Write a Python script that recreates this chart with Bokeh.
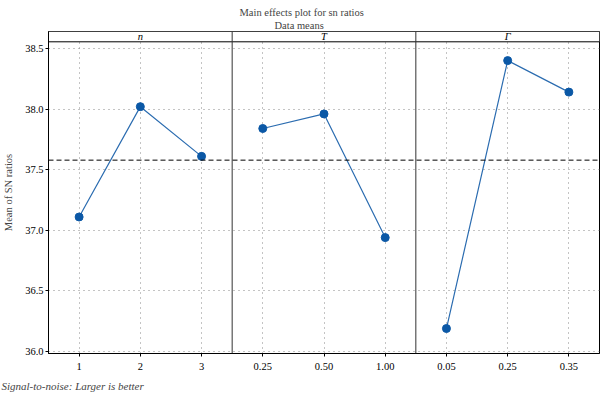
from bokeh.plotting import figure
from bokeh.models import (Span, FixedTicker, Title, Range1d, ColumnDataSource)
from bokeh.core.properties import value
from bokeh.embed import file_html
from bokeh.resources import INLINE

# ---- data ----
factors = ["n", "T", "Γ"]
levels_n = ["1", "2", "3"]
levels_T = ["0.25", "0.50", "1.00"]
levels_G = ["0.05", "0.25", "0.35"]
sn_n = [37.11, 38.02, 37.61]
sn_T = [37.84, 37.96, 36.94]
sn_G = [36.19, 38.40, 38.14]
y_ticks = [36.0, 36.5, 37.0, 37.5, 38.0, 38.5]

FONT = "Liberation Serif"
LINE_C = "#2b6cb0"
MARK_C = "#0b58a6"

all_levels = levels_n + levels_T + levels_G
all_vals = sn_n + sn_T + sn_G
grand_mean = sum(all_vals) / len(all_vals)

y_lo, y_hi = 35.984, 38.64
header_bottom = 38.555

p = figure(width=600, height=396, output_backend="svg", toolbar_location=None,
           x_range=Range1d(0, 9), y_range=Range1d(y_lo, y_hi),
           min_border_left=48, min_border_right=1, min_border_top=31,
           min_border_bottom=42, tools="")
p.background_fill_color = "white"
p.border_fill_color = "white"
p.outline_line_color = "black"
p.outline_line_width = 1

# titles (added bottom-up)
t2 = Title(text="Data means", align="left", text_font=FONT,
           text_font_size="10.5px", text_font_style="normal", standoff=1, offset=226,
           text_line_height=1.0)
t1 = Title(text="Main effects plot for sn ratios", align="left", text_font=FONT,
           text_font_size="10.5px", text_font_style="normal", standoff=0, offset=191,
           text_line_height=1.0)
p.add_layout(t2, "above")
p.add_layout(t1, "above")
foot = Title(text="Signal-to-noise: Larger is better", align="left", text_font=FONT,
             text_font_size="11px", text_font_style="italic", standoff=10, offset=-47)
p.add_layout(foot, "below")

# axes
xt = [0.5, 1.5, 2.5, 3.5, 4.5, 5.5, 6.5, 7.5, 8.5]
p.xaxis.ticker = FixedTicker(ticks=xt)
p.xaxis.major_label_overrides = {x: lab for x, lab in zip(xt, all_levels)}
p.yaxis.ticker = FixedTicker(ticks=y_ticks)
p.yaxis.major_label_overrides = {v: f"{v:.1f}" for v in y_ticks}
p.yaxis.axis_label = "Mean of SN ratios"
for ax in (p.xaxis[0], p.yaxis[0]):
    ax.major_label_text_font = FONT
    ax.major_label_text_font_size = "10.5px"
    ax.major_label_text_color = "black"
    ax.axis_line_color = "black"
    ax.major_tick_line_color = "black"
    ax.major_tick_in = 0
    ax.major_tick_out = 3
    ax.minor_tick_line_color = None
p.yaxis.axis_label_text_font = FONT
p.yaxis.axis_label_text_font_size = "10.5px"
p.yaxis.axis_label_text_font_style = "normal"
p.yaxis.axis_label_standoff = 8
p.yaxis.major_label_standoff = 2
p.xaxis.major_label_standoff = 6

p.xgrid.grid_line_color = "#888888"
p.xgrid.grid_line_dash = "1 4"
p.ygrid.grid_line_color = "#888888"
p.ygrid.grid_line_dash = "1 4"

# header strip cover
p.quad(left=0, right=9, bottom=header_bottom, top=y_hi, fill_color="white",
       line_color=None)
p.add_layout(Span(location=header_bottom, dimension="width", line_color="black",
                  line_width=1))

# mean line
p.add_layout(Span(location=grand_mean, dimension="width", line_color="black",
                  line_width=1, line_dash="5 3"))

# panel separators
for loc in (3, 6):
    p.add_layout(Span(location=loc, dimension="height", line_color="#333333",
                      line_width=1))

# series
for i, vals in enumerate([sn_n, sn_T, sn_G]):
    xs = [i * 3 + 0.5, i * 3 + 1.5, i * 3 + 2.5]
    src = ColumnDataSource(dict(x=xs, y=vals))
    p.line("x", "y", source=src, line_color=LINE_C, line_width=1.2)
    p.scatter("x", "y", source=src, size=8, fill_color=MARK_C, line_color=MARK_C)

# header labels
hx = [1.5, 4.5, 7.5]
hy = [(header_bottom + y_hi) / 2] * 3
p.text(x=hx, y=hy, text=factors, text_font=value(FONT), text_font_size="10.5px",
       text_font_style="italic", text_align="center", text_baseline="middle",
       text_color="black")

open("out.html", "w").write(file_html(p, INLINE))
